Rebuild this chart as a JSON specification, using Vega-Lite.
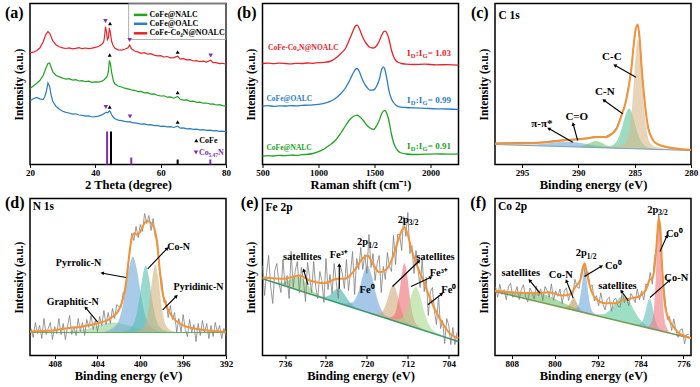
{
"$schema":"https://vega.github.io/schema/vega-lite/v6.json",
"background":"white",
"padding":{"left":4,"top":1.5,"right":0,"bottom":0},
"config":{
 "font":"Liberation Serif",
 "view":{"stroke":"black","strokeWidth":1.5},
 "axis":{"labelFont":"Liberation Serif","labelFontWeight":"bold","labelFontSize":9,"labelColor":"black","titleFont":"Liberation Serif","titleFontWeight":"bold","titleColor":"black","grid":false,"domain":false,"tickColor":"black","tickWidth":1,"tickSize":3,"labelFlush":false,"labelOverlap":false},
 "axisX":{"titleFontSize":12.5,"titlePadding":1,"labelPadding":1},
 "axisY":{"labels":false,"ticks":false,"titleFontSize":11.5,"titlePadding":6},
 "text":{"font":"Liberation Serif","fontWeight":"bold","color":"black"}
},
"columns":3,
"spacing":{"row":34,"column":36.5},
"bounds":"flush",
"resolve":{"scale":{"color":"independent"},"legend":{"color":"independent"}},
"datasets":{
"xrd":[
{"t":20,"r":111.5,"g":76,"b":63.5},{"t":21,"r":112.3,"g":78.5,"b":65.8},{"t":22,"r":113.8,"g":81,"b":67},{"t":23,"r":116.5,"g":84,"b":65.6},{"t":24,"r":122.5,"g":89,"b":65},{"t":24.5,"r":127,"g":93,"b":67.5},{"t":25,"r":131,"g":97.5,"b":73},{"t":25.5,"r":133,"g":101,"b":81.5},{"t":26,"r":131.5,"g":101.5,"b":78},{"t":26.5,"r":127.5,"g":97,"b":69},{"t":27,"r":123.5,"g":92.5,"b":63},{"t":28,"r":119.5,"g":89,"b":58},{"t":29,"r":117.8,"g":87.6,"b":55.3},{"t":30,"r":116.6,"g":86.4,"b":53.2},{"t":31,"r":116,"g":85.3,"b":52.1},{"t":32,"r":116.6,"g":85.8,"b":51.5},{"t":33,"r":115.6,"g":84.4,"b":50.4},{"t":34,"r":116.2,"g":84.9,"b":50.7},{"t":35,"r":116.9,"g":83.5,"b":49.5},{"t":36,"r":115.8,"g":83.9,"b":49.1},{"t":37,"r":116.5,"g":82.8,"b":48.3},{"t":38,"r":115.9,"g":83.3,"b":48.6},{"t":39,"r":116.4,"g":82.1,"b":47.5},{"t":40,"r":117.2,"g":82.6,"b":47.8},{"t":41,"r":118,"g":82.4,"b":48.4},{"t":42,"r":120.3,"g":83.4,"b":49.6},{"t":42.5,"r":122,"g":84.2,"b":50.5},{"t":42.8,"r":127,"g":85,"b":51.2},{"t":43.1,"r":138,"g":86.2,"b":51.8},{"t":43.4,"r":133,"g":87,"b":52.3},{"t":43.7,"r":125,"g":89,"b":51.8},{"t":44,"r":127,"g":93,"b":52.5},{"t":44.3,"r":136.5,"g":104,"b":53.6},{"t":44.6,"r":132,"g":101,"b":52.6},{"t":45,"r":123,"g":92,"b":49.8},{"t":45.5,"r":118.5,"g":84,"b":47.2},{"t":46,"r":116.3,"g":80.5,"b":45.8},{"t":47,"r":114.6,"g":78.5,"b":44.4},{"t":48,"r":114.3,"g":77.5,"b":43.9},{"t":49,"r":115.2,"g":76.3,"b":43.2},{"t":50,"r":116.8,"g":75.6,"b":42.6},{"t":50.5,"r":119.5,"g":75.2,"b":42.9},{"t":51,"r":116,"g":74.7,"b":42.1},{"t":52,"r":113.5,"g":74.2,"b":41.6},{"t":53,"r":112.6,"g":72.9,"b":41.1},{"t":54,"r":111.2,"g":73.1,"b":40.4},{"t":55,"r":111.8,"g":71.6,"b":40.6},{"t":56,"r":110.3,"g":71.9,"b":39.6},{"t":57,"r":110.8,"g":70.4,"b":39.9},{"t":58,"r":109.4,"g":70.6,"b":38.9},{"t":59,"r":108.6,"g":69.2,"b":39.1},{"t":60,"r":108.9,"g":68.5,"b":38.2},{"t":61,"r":107.5,"g":68.7,"b":38.4},{"t":62,"r":108,"g":67.3,"b":37.6},{"t":63,"r":106.6,"g":67.6,"b":37.8},{"t":64,"r":106.9,"g":66.3,"b":37},{"t":65.2,"r":108.3,"g":68,"b":38.3},{"t":66,"r":105.4,"g":65.2,"b":36.3},{"t":67,"r":105.8,"g":64.3,"b":36.6},{"t":68,"r":104.6,"g":64.6,"b":35.7},{"t":69,"r":104.9,"g":63.1,"b":35.9},{"t":70,"r":103.5,"g":63.3,"b":35.2},{"t":71,"r":103.9,"g":62.2,"b":35.4},{"t":72,"r":102.8,"g":62.4,"b":34.6},{"t":73,"r":103.3,"g":61.3,"b":34.8},{"t":74,"r":102.4,"g":61.5,"b":34.1},{"t":75.3,"r":104.3,"g":60.4,"b":34.3},{"t":76,"r":101.8,"g":60.6,"b":33.6},{"t":77,"r":101.9,"g":59.5,"b":33.8},{"t":78,"r":100.9,"g":59.8,"b":33.1},{"t":79,"r":101.2,"g":58.9,"b":33.3},{"t":80,"r":100.2,"g":58.6,"b":32.6}],
"xmk":[{"t":43.1,"v":143.5,"m":"d"},{"t":44.5,"v":141,"m":"u"},{"t":50.5,"v":124.5,"m":"d"},{"t":65.2,"v":112.5,"m":"u"},{"t":75.3,"v":109,"m":"d"},{"t":44.4,"v":109.5,"m":"u"},{"t":65.2,"v":72,"m":"u"},{"t":43.2,"v":57.5,"m":"d"},{"t":44.4,"v":57.5,"m":"u"},{"t":50.6,"v":48,"m":"d"},{"t":65.2,"v":42.5,"m":"u"},{"t":70.9,"v":24,"m":"u"},{"t":70.8,"v":12,"m":"d"}],
"stk":[{"t":43.6,"z":0,"h":33,"m":"d"},{"t":44.8,"z":0,"h":33,"m":"u"},{"t":51,"z":0,"h":7,"m":"d"},{"t":65.2,"z":0,"h":5,"m":"u"},{"t":75.2,"z":0,"h":5,"m":"d"}],
"xlg":[{"k":"g","x1":51.8,"x2":55.9,"tx":56.6,"y":149.6,"t":"CoFe@NALC"},{"k":"b","x1":51.8,"x2":55.9,"tx":56.6,"y":140.7,"t":"CoFe@OALC"},{"k":"r","x1":51.8,"x2":55.9,"tx":56.6,"y":131.2,"t":"CoFe-Co₄N@NOALC"}],
"xbox":[{"x1":50.2,"x2":80,"y1":125,"y2":161}],
"xleg":[{"x":71.8,"y":24,"m":"u"},{"x":71.7,"y":12,"m":"d"}],
"ram":[
{"w":500,"r":101,"o":58.3,"g":8.3},{"w":550,"r":101.4,"o":58.8,"g":8.9},{"w":600,"r":100.8,"o":58.2,"g":8.5},{"w":650,"r":101.3,"o":58.7,"g":9.2},{"w":700,"r":101,"o":58.5,"g":8.8},{"w":750,"r":100.6,"o":58.9,"g":9.4},{"w":800,"r":101.2,"o":58.6,"g":9.1},{"w":850,"r":101,"o":59.1,"g":9.8},{"w":900,"r":101.5,"o":59.3,"g":10.2},{"w":950,"r":101.2,"o":59.6,"g":11},{"w":1000,"r":101.8,"o":60.2,"g":12.8},{"w":1050,"r":102.2,"o":61.2,"g":15.5},{"w":1100,"r":103,"o":62.8,"g":19.5},{"w":1150,"r":106,"o":66,"g":24},{"w":1200,"r":111,"o":71,"g":31.5},{"w":1240,"r":116,"o":76.5,"g":38.5},{"w":1280,"r":126,"o":84.5,"g":45},{"w":1310,"r":134,"o":91.5,"g":48},{"w":1330,"r":138.5,"o":95,"g":49},{"w":1345,"r":139.3,"o":96,"g":49.3},{"w":1360,"r":137,"o":94,"g":48.5},{"w":1380,"r":131.5,"o":88.5,"g":46.5},{"w":1400,"r":126,"o":83,"g":44},{"w":1430,"r":120.5,"o":77.5,"g":39.5},{"w":1460,"r":117,"o":74.3,"g":36.5},{"w":1490,"r":116.5,"o":74.5,"g":35},{"w":1520,"r":119,"o":78.5,"g":39},{"w":1545,"r":124,"o":86,"g":45},{"w":1565,"r":129.5,"o":95.5,"g":51},{"w":1580,"r":132.5,"o":97.7,"g":53.5},{"w":1595,"r":133.3,"o":94,"g":54},{"w":1610,"r":131.5,"o":86,"g":51},{"w":1630,"r":125,"o":73.3,"g":43},{"w":1650,"r":115,"o":66,"g":31},{"w":1670,"r":108,"o":62,"g":22},{"w":1690,"r":104,"o":59.5,"g":16.7},{"w":1710,"r":102.2,"o":58,"g":13.5},{"w":1740,"r":101,"o":57.3,"g":11.5},{"w":1780,"r":100.4,"o":57,"g":10.5},{"w":1850,"r":100,"o":56.6,"g":10},{"w":1950,"r":100.3,"o":56.2,"g":10.3},{"w":2050,"r":99.7,"o":55.7,"g":10.6},{"w":2150,"r":99.8,"o":55.5,"g":10.4},{"w":2250,"r":99.3,"o":55,"g":10.7}],
"ramT":[{"w":550,"v":116.7,"s":"r","t":"CoFe-Co₄N@NOALC"},{"w":535,"v":66,"s":"o","t":"CoFe@OALC"},{"w":535,"v":16.7,"s":"g","t":"CoFe@NALC"}],
"idig":[{"w":1822,"v":111.7,"s":"r","val":" = 1.03"},{"w":1822,"v":65,"s":"o","val":" = 0.99"},{"w":1822,"v":18.3,"s":"g","val":" = 0.91"}],
"lbl":[{"p":"a","x":15.2,"y":152,"t":"(a)"},{"p":"b","x":360,"y":152,"t":"(b)"},{"p":"c","x":298.75,"y":152,"t":"(c)"},{"p":"d","x":411.73,"y":152.5,"t":"(d)"},{"p":"e","x":742.9,"y":152.3,"t":"(e)"},{"p":"f","x":814.2,"y":152.5,"t":"(f)"}],
"ins":[{"p":"c","x":297.1,"y":149,"t":"C 1s"},{"p":"d","x":410.05,"y":149,"t":"N 1s"},{"p":"e","x":739.8,"y":148,"t":"Fe 2p"},{"p":"f","x":810.55,"y":149,"t":"Co 2p"}],
"cA":[
{"c":"pp","x":282.0,"y":14.7,"b":14.7},{"c":"pp","x":284.8,"y":15.9,"b":15.7},{"c":"pp","x":286.8,"y":16.8,"b":16.3},{"c":"pp","x":287.8,"y":17.9,"b":16.7},{"c":"pp","x":288.8,"y":19.5,"b":17.0},{"c":"pp","x":289.8,"y":21.5,"b":17.4},{"c":"pp","x":290.8,"y":22.7,"b":17.7},{"c":"pp","x":291.8,"y":22.2,"b":18.1},{"c":"pp","x":292.8,"y":20.9,"b":18.4},{"c":"pp","x":293.8,"y":20.0,"b":18.8},{"c":"pp","x":294.8,"y":19.6,"b":19.1},{"c":"pp","x":296.8,"y":19.9,"b":19.8},{"c":"pp","x":297.4,"y":20.1,"b":20.0},
{"c":"co","x":284.1,"y":15.4,"b":15.4},{"c":"co","x":285.4,"y":16.1,"b":15.9},{"c":"co","x":286.9,"y":17.1,"b":16.4},{"c":"co","x":287.275,"y":18.1,"b":16.5},{"c":"co","x":287.65,"y":19.9,"b":16.6},{"c":"co","x":288.025,"y":22.2,"b":16.8},{"c":"co","x":288.4,"y":23.4,"b":16.9},{"c":"co","x":288.775,"y":22.4,"b":17.0},{"c":"co","x":289.15,"y":20.5,"b":17.2},{"c":"co","x":289.525,"y":18.9,"b":17.3},{"c":"co","x":289.9,"y":18.1,"b":17.4},{"c":"co","x":290.65,"y":17.9,"b":17.7},{"c":"co","x":291.7,"y":18.0,"b":18.0},
{"c":"cn","x":281.92,"y":15.1,"b":14.7},{"c":"cn","x":282.74,"y":15.5,"b":14.9},{"c":"cn","x":283.39,"y":16.2,"b":15.2},{"c":"cn","x":283.88,"y":17.3,"b":15.3},{"c":"cn","x":284.2,"y":19.6,"b":15.4},{"c":"cn","x":284.53,"y":25.2,"b":15.6},{"c":"cn","x":284.69,"y":29.8,"b":15.6},{"c":"cn","x":284.85,"y":35.7,"b":15.7},{"c":"cn","x":285.01,"y":42.3,"b":15.7},{"c":"cn","x":285.18,"y":49.0,"b":15.8},{"c":"cn","x":285.34,"y":54.0,"b":15.9},{"c":"cn","x":285.5,"y":55.9,"b":15.9},{"c":"cn","x":285.66,"y":54.1,"b":16.0},{"c":"cn","x":285.83,"y":49.2,"b":16.0},{"c":"cn","x":285.99,"y":42.7,"b":16.1},{"c":"cn","x":286.15,"y":36.1,"b":16.1},{"c":"cn","x":286.31,"y":30.4,"b":16.2},{"c":"cn","x":286.48,"y":25.8,"b":16.2},{"c":"cn","x":286.8,"y":20.5,"b":16.3},{"c":"cn","x":287.13,"y":18.5,"b":16.5},{"c":"cn","x":287.61,"y":17.6,"b":16.6},{"c":"cn","x":288.26,"y":17.4,"b":16.8},{"c":"cn","x":289.08,"y":17.5,"b":17.1},
{"c":"cc","x":281.0,"y":14.3,"b":14.3},{"c":"cc","x":282.23,"y":15.9,"b":14.8},{"c":"cc","x":282.79,"y":16.8,"b":15.0},{"c":"cc","x":283.24,"y":18.0,"b":15.1},{"c":"cc","x":283.58,"y":20.7,"b":15.2},{"c":"cc","x":283.8,"y":26.7,"b":15.3},{"c":"cc","x":284.03,"y":41.7,"b":15.4},{"c":"cc","x":284.14,"y":54.3,"b":15.4},{"c":"cc","x":284.25,"y":70.5,"b":15.5},{"c":"cc","x":284.36,"y":88.8,"b":15.5},{"c":"cc","x":284.48,"y":106.7,"b":15.5},{"c":"cc","x":284.59,"y":120.4,"b":15.6},{"c":"cc","x":284.7,"y":125.6,"b":15.6},{"c":"cc","x":284.81,"y":120.5,"b":15.7},{"c":"cc","x":284.93,"y":106.9,"b":15.7},{"c":"cc","x":285.04,"y":89.0,"b":15.7},{"c":"cc","x":285.15,"y":70.8,"b":15.8},{"c":"cc","x":285.26,"y":54.7,"b":15.8},{"c":"cc","x":285.38,"y":42.1,"b":15.8},{"c":"cc","x":285.6,"y":27.3,"b":15.9},{"c":"cc","x":285.83,"y":21.5,"b":16.0},{"c":"cc","x":286.16,"y":19.0,"b":16.1},{"c":"cc","x":286.61,"y":18.1,"b":16.3},{"c":"cc","x":287.18,"y":17.6,"b":16.5}],
"cL":[
{"k":"b","x":297.4,"y":20},{"k":"b","x":280,"y":14},
{"k":"r","x":297.4,"y":21.5},{"k":"r","x":296,"y":21.8},{"k":"r","x":295,"y":22.1},{"k":"r","x":294.1,"y":22.0},{"k":"r","x":293,"y":22.6},{"k":"r","x":292.5,"y":23.4},{"k":"r","x":291.5,"y":24.6},{"k":"r","x":290.5,"y":25.3},{"k":"r","x":289.4,"y":26.4},{"k":"r","x":288.5,"y":28.0},{"k":"r","x":288.0,"y":28.1},{"k":"r","x":287.6,"y":27.8},{"k":"r","x":287.0,"y":31.5},{"k":"r","x":286.6,"y":37},{"k":"r","x":286.1,"y":52},{"k":"r","x":285.8,"y":63},{"k":"r","x":285.5,"y":81},{"k":"r","x":285.3,"y":96},{"k":"r","x":285.1,"y":119},{"k":"r","x":284.9,"y":136},{"k":"r","x":284.72,"y":139},{"k":"r","x":284.55,"y":124},{"k":"r","x":284.4,"y":99},{"k":"r","x":284.2,"y":72},{"k":"r","x":284.0,"y":51},{"k":"r","x":283.8,"y":36},{"k":"r","x":283.5,"y":26.5},{"k":"r","x":283.2,"y":21.5},{"k":"r","x":282.5,"y":18},{"k":"r","x":281.7,"y":16},{"k":"r","x":280.8,"y":15},{"k":"r","x":280.0,"y":14.5},
{"k":"e","x":297.4,"y":20.7},{"k":"e","x":296,"y":21.0},{"k":"e","x":294.1,"y":21.3},{"k":"e","x":292.5,"y":22.5},{"k":"e","x":291.5,"y":23.8},{"k":"e","x":290.5,"y":24.7},{"k":"e","x":289.4,"y":25.7},{"k":"e","x":288.5,"y":27.3},{"k":"e","x":288.0,"y":27.5},{"k":"e","x":287.6,"y":27.3},{"k":"e","x":287.0,"y":30.7},{"k":"e","x":286.6,"y":36},{"k":"e","x":286.1,"y":51.3},{"k":"e","x":285.8,"y":62},{"k":"e","x":285.5,"y":80},{"k":"e","x":285.3,"y":95},{"k":"e","x":285.1,"y":118},{"k":"e","x":284.9,"y":136},{"k":"e","x":284.72,"y":140},{"k":"e","x":284.55,"y":125},{"k":"e","x":284.4,"y":100},{"k":"e","x":284.2,"y":73},{"k":"e","x":284.0,"y":52},{"k":"e","x":283.8,"y":36.7},{"k":"e","x":283.5,"y":27},{"k":"e","x":283.2,"y":22},{"k":"e","x":282.5,"y":18.5},{"k":"e","x":281.7,"y":16.5},{"k":"e","x":280.8,"y":15.3},{"k":"e","x":280.0,"y":14.7}],
"cT":[{"x":287.03,"y":107.3,"t":"C-C"},{"x":287.65,"y":72.3,"t":"C-N"},{"x":290.14,"y":47.3,"t":"C=O"},{"x":293.24,"y":40.7,"t":"π-π*"}],
"cR":[{"x":284.88,"y":87.3,"hx":286.72,"hy":99,"a":299},{"x":286.06,"y":50.7,"hx":287.7,"hy":64,"a":306},{"x":290.06,"y":24,"hx":290.45,"hy":40,"a":345},{"x":290.5,"y":22.3,"hx":292.58,"hy":35.7,"a":300}],
"dA":[
{"c":"gr","x":393.7,"y":23,"b":23},{"c":"gr","x":396.5,"y":23.3,"b":23},{"c":"gr","x":398.5,"y":24,"b":23},{"c":"gr","x":399.5,"y":25.4,"b":23},{"c":"gr","x":400.5,"y":28,"b":23},{"c":"gr","x":401.5,"y":31.3,"b":23},{"c":"gr","x":402.5,"y":33,"b":23},{"c":"gr","x":403.5,"y":31.3,"b":23},{"c":"gr","x":404.5,"y":28,"b":23},{"c":"gr","x":405.5,"y":25.4,"b":23},{"c":"gr","x":406.5,"y":24,"b":23},{"c":"gr","x":408.5,"y":23.3,"b":23},{"c":"gr","x":410.3,"y":23.1,"b":23},
{"c":"py","x":397.4,"y":23,"b":23},{"c":"py","x":398.45,"y":25.3,"b":23},{"c":"py","x":399.2,"y":30.9,"b":23},{"c":"py","x":399.575,"y":41.2,"b":23},{"c":"py","x":399.95,"y":61,"b":23},{"c":"py","x":400.325,"y":86,"b":23},{"c":"py","x":400.7,"y":99,"b":23},{"c":"py","x":401.075,"y":86,"b":23},{"c":"py","x":401.45,"y":61,"b":23},{"c":"py","x":401.825,"y":41.2,"b":23},{"c":"py","x":402.2,"y":30.9,"b":23},{"c":"py","x":402.95,"y":25.3,"b":23},{"c":"py","x":404.0,"y":23,"b":23},
{"c":"cn","x":396.86,"y":23,"b":23},{"c":"cn","x":397.7,"y":25,"b":23},{"c":"cn","x":398.3,"y":30,"b":23},{"c":"cn","x":398.6,"y":39,"b":23},{"c":"cn","x":398.9,"y":56.5,"b":23},{"c":"cn","x":399.2,"y":78.5,"b":23},{"c":"cn","x":399.5,"y":90,"b":23},{"c":"cn","x":399.8,"y":78.5,"b":23},{"c":"cn","x":400.1,"y":56.5,"b":23},{"c":"cn","x":400.4,"y":39,"b":23},{"c":"cn","x":400.7,"y":30,"b":23},{"c":"cn","x":401.3,"y":25,"b":23},{"c":"cn","x":402.14,"y":23,"b":23},
{"c":"pd","x":396.4,"y":23,"b":23},{"c":"pd","x":397.1,"y":25,"b":23},{"c":"pd","x":397.6,"y":30.1,"b":23},{"c":"pd","x":397.85,"y":39.3,"b":23},{"c":"pd","x":398.1,"y":57,"b":23},{"c":"pd","x":398.35,"y":79.4,"b":23},{"c":"pd","x":398.6,"y":91,"b":23},{"c":"pd","x":398.85,"y":79.4,"b":23},{"c":"pd","x":399.1,"y":57,"b":23},{"c":"pd","x":399.35,"y":39.3,"b":23},{"c":"pd","x":399.6,"y":30.1,"b":23},{"c":"pd","x":400.1,"y":25,"b":23},{"c":"pd","x":400.8,"y":23,"b":23}],
"dL":[
{"k":"b","x":392,"y":23},{"k":"b","x":410.3,"y":23},
{"k":"r","x":410.2,"y":27},{"k":"r","x":410.0,"y":18},{"k":"r","x":409.8,"y":33},{"k":"r","x":409.6,"y":22},{"k":"r","x":409.4,"y":30},{"k":"r","x":409.2,"y":17},{"k":"r","x":409.0,"y":37},{"k":"r","x":408.8,"y":21},{"k":"r","x":408.6,"y":27},{"k":"r","x":408.4,"y":33},{"k":"r","x":408.2,"y":16},{"k":"r","x":408.0,"y":29},{"k":"r","x":407.8,"y":22},{"k":"r","x":407.6,"y":37},{"k":"r","x":407.4,"y":21},{"k":"r","x":407.2,"y":32},{"k":"r","x":407.0,"y":16},{"k":"r","x":406.8,"y":29},{"k":"r","x":406.6,"y":40},{"k":"r","x":406.4,"y":21},{"k":"r","x":406.2,"y":29},{"k":"r","x":406.0,"y":20},{"k":"r","x":405.8,"y":37},{"k":"r","x":405.6,"y":24},{"k":"r","x":405.4,"y":33},{"k":"r","x":405.2,"y":20},{"k":"r","x":405.0,"y":36},{"k":"r","x":404.8,"y":28},{"k":"r","x":404.6,"y":40},{"k":"r","x":404.4,"y":26},{"k":"r","x":404.2,"y":35},{"k":"r","x":404.0,"y":24},{"k":"r","x":403.8,"y":39},{"k":"r","x":403.6,"y":30},{"k":"r","x":403.4,"y":45},{"k":"r","x":403.2,"y":31},{"k":"r","x":403.0,"y":43},{"k":"r","x":402.8,"y":32},{"k":"r","x":402.6,"y":47},{"k":"r","x":402.4,"y":37},{"k":"r","x":402.2,"y":51},{"k":"r","x":402.0,"y":49},{"k":"r","x":401.8,"y":48},{"k":"r","x":401.6,"y":63},{"k":"r","x":401.4,"y":64},{"k":"r","x":401.2,"y":88},{"k":"r","x":401.0,"y":101},{"k":"r","x":400.8,"y":122},{"k":"r","x":400.6,"y":115},{"k":"r","x":400.4,"y":129},{"k":"r","x":400.2,"y":118},{"k":"r","x":400.0,"y":131},{"k":"r","x":399.8,"y":124},{"k":"r","x":399.6,"y":142},{"k":"r","x":399.4,"y":132},{"k":"r","x":399.2,"y":140},{"k":"r","x":399.0,"y":125},{"k":"r","x":398.8,"y":137},{"k":"r","x":398.6,"y":118},{"k":"r","x":398.4,"y":115},{"k":"r","x":398.2,"y":82},{"k":"r","x":398.0,"y":76},{"k":"r","x":397.8,"y":53},{"k":"r","x":397.6,"y":55},{"k":"r","x":397.4,"y":38},{"k":"r","x":397.2,"y":50},{"k":"r","x":397.0,"y":36},{"k":"r","x":396.8,"y":43},{"k":"r","x":396.6,"y":23},{"k":"r","x":396.4,"y":37},{"k":"r","x":396.2,"y":23.5},{"k":"r","x":396.0,"y":41},{"k":"r","x":395.8,"y":26},{"k":"r","x":395.6,"y":19},{"k":"r","x":395.4,"y":36},{"k":"r","x":395.2,"y":23},{"k":"r","x":395.0,"y":31},{"k":"r","x":394.8,"y":14},{"k":"r","x":394.6,"y":32},{"k":"r","x":394.4,"y":20},{"k":"r","x":394.2,"y":35},{"k":"r","x":394.0,"y":23},{"k":"r","x":393.8,"y":32},{"k":"r","x":393.6,"y":17},{"k":"r","x":393.4,"y":30},{"k":"r","x":393.2,"y":19},{"k":"r","x":393.0,"y":33},{"k":"r","x":392.8,"y":23},{"k":"r","x":392.6,"y":30},{"k":"r","x":392.4,"y":17},{"k":"r","x":392.2,"y":27},{"k":"r","x":392.0,"y":20},
{"k":"e","x":410.3,"y":24},{"k":"e","x":408,"y":25.3},{"k":"e","x":406.75,"y":27.3},{"k":"e","x":405.5,"y":28.8},{"k":"e","x":404.56,"y":30.7},{"k":"e","x":403.8,"y":32.7},{"k":"e","x":403.0,"y":35.7},{"k":"e","x":402.6,"y":38.7},{"k":"e","x":402.2,"y":42.3},{"k":"e","x":401.9,"y":48},{"k":"e","x":401.6,"y":57.3},{"k":"e","x":401.27,"y":77.3},{"k":"e","x":401.0,"y":104},{"k":"e","x":400.8,"y":117.3},{"k":"e","x":400.54,"y":122.3},{"k":"e","x":400.33,"y":120.7},{"k":"e","x":400.0,"y":124},{"k":"e","x":399.7,"y":130.7},{"k":"e","x":399.39,"y":134.7},{"k":"e","x":399.0,"y":132.3},{"k":"e","x":398.7,"y":127.3},{"k":"e","x":398.45,"y":114},{"k":"e","x":398.23,"y":90.7},{"k":"e","x":398.0,"y":67.3},{"k":"e","x":397.6,"y":50.7},{"k":"e","x":397.04,"y":39},{"k":"e","x":396.1,"y":30.7},{"k":"e","x":394.8,"y":26.7},{"k":"e","x":393.5,"y":24.8},{"k":"e","x":392,"y":24}],
"dT":[{"x":405.77,"y":92.3,"t":"Pyrrolic-N"},{"x":396.43,"y":109,"t":"Co-N"},{"x":394.56,"y":69,"t":"Pyridinic-N"},{"x":406.31,"y":54,"t":"Graphitic-N"}],
"dR":[{"x":401.33,"y":78,"hx":403.51,"hy":82.3,"a":280},{"x":399.31,"y":86.7,"hx":397.53,"hy":106.7,"a":44},{"x":397.91,"y":45.7,"hx":396.66,"hy":59,"a":45},{"x":403.98,"y":33.3,"hx":405.07,"hy":47.3,"a":320}],
"eA":[
{"c":"s1","x":724.5,"y":50.7,"b":50.7},{"c":"s1","x":727.3,"y":55.7,"b":55.3},{"c":"s1","x":729.3,"y":60.0,"b":58.5},{"c":"s1","x":730.3,"y":63.5,"b":60.2},{"c":"s1","x":731.3,"y":68.8,"b":61.8},{"c":"s1","x":732.3,"y":75.0,"b":63.4},{"c":"s1","x":733.3,"y":79.1,"b":65.1},{"c":"s1","x":734.3,"y":78.3,"b":66.7},{"c":"s1","x":735.3,"y":75.3,"b":68.3},{"c":"s1","x":736.3,"y":73.3,"b":70.0},{"c":"s1","x":737.3,"y":73.1,"b":71.6},{"c":"s1","x":739.3,"y":75.3,"b":74.9},{"c":"s1","x":740.4,"y":76.9,"b":76.7},
{"c":"f3a","x":718.8,"y":41.3,"b":41.3},{"c":"f3a","x":720.9,"y":45.3,"b":44.8},{"c":"f3a","x":722.4,"y":48.8,"b":47.2},{"c":"f3a","x":723.15,"y":52.1,"b":48.5},{"c":"f3a","x":723.9,"y":57.2,"b":49.7},{"c":"f3a","x":724.65,"y":63.3,"b":50.9},{"c":"f3a","x":725.4,"y":67.1,"b":52.1},{"c":"f3a","x":726.15,"y":65.8,"b":53.4},{"c":"f3a","x":726.9,"y":62.1,"b":54.6},{"c":"f3a","x":727.65,"y":59.4,"b":55.8},{"c":"f3a","x":728.4,"y":58.7,"b":57.1},{"c":"f3a","x":729.9,"y":59.9,"b":59.5},{"c":"f3a","x":732.0,"y":62.9,"b":62.9},
{"c":"f0a","x":713.25,"y":32.3,"b":32.3},{"c":"f0a","x":715.35,"y":37.1,"b":35.7},{"c":"f0a","x":716.85,"y":43.0,"b":38.1},{"c":"f0a","x":717.6,"y":50.6,"b":39.4},{"c":"f0a","x":718.35,"y":64.1,"b":40.6},{"c":"f0a","x":719.1,"y":80.8,"b":41.8},{"c":"f0a","x":719.85,"y":90.1,"b":43.1},{"c":"f0a","x":720.6,"y":83.3,"b":44.3},{"c":"f0a","x":721.35,"y":69.0,"b":45.5},{"c":"f0a","x":722.1,"y":57.9,"b":46.7},{"c":"f0a","x":722.85,"y":52.9,"b":48.0},{"c":"f0a","x":724.35,"y":51.8,"b":50.4},{"c":"f0a","x":726.45,"y":53.9,"b":53.9},
{"c":"s2","x":709.3,"y":25.8,"b":25.8},{"c":"s2","x":711.05,"y":29.8,"b":28.7},{"c":"s2","x":712.3,"y":34.4,"b":30.7},{"c":"s2","x":712.925,"y":40.3,"b":31.7},{"c":"s2","x":713.55,"y":50.7,"b":32.7},{"c":"s2","x":714.175,"y":63.6,"b":33.8},{"c":"s2","x":714.8,"y":70.8,"b":34.8},{"c":"s2","x":715.425,"y":65.6,"b":35.8},{"c":"s2","x":716.05,"y":54.8,"b":36.8},{"c":"s2","x":716.675,"y":46.5,"b":37.9},{"c":"s2","x":717.3,"y":42.6,"b":38.9},{"c":"s2","x":718.55,"y":42.0,"b":40.9},{"c":"s2","x":720.3,"y":43.8,"b":43.8},
{"c":"f3b","x":708.25,"y":24.1,"b":24.1},{"c":"f3b","x":709.65,"y":28.2,"b":26.4},{"c":"f3b","x":710.65,"y":34.3,"b":28.0},{"c":"f3b","x":711.15,"y":43.4,"b":28.8},{"c":"f3b","x":711.65,"y":60.1,"b":29.6},{"c":"f3b","x":712.15,"y":81.1,"b":30.5},{"c":"f3b","x":712.65,"y":92.3,"b":31.3},{"c":"f3b","x":713.15,"y":82.7,"b":32.1},{"c":"f3b","x":713.65,"y":63.4,"b":32.9},{"c":"f3b","x":714.15,"y":48.3,"b":33.7},{"c":"f3b","x":714.65,"y":40.8,"b":34.5},{"c":"f3b","x":715.65,"y":38.0,"b":36.2},{"c":"f3b","x":717.05,"y":38.5,"b":38.5},
{"c":"f0b","x":703.8,"y":16.8,"b":16.8},{"c":"f0b","x":705.9,"y":21.4,"b":20.2},{"c":"f0b","x":707.4,"y":27.0,"b":22.7},{"c":"f0b","x":708.15,"y":33.7,"b":23.9},{"c":"f0b","x":708.9,"y":45.6,"b":25.1},{"c":"f0b","x":709.65,"y":60.4,"b":26.4},{"c":"f0b","x":710.4,"y":68.6,"b":27.6},{"c":"f0b","x":711.15,"y":62.8,"b":28.8},{"c":"f0b","x":711.9,"y":50.5,"b":30.0},{"c":"f0b","x":712.65,"y":41.1,"b":31.3},{"c":"f0b","x":713.4,"y":36.8,"b":32.5},{"c":"f0b","x":714.9,"y":36.2,"b":35.0},{"c":"f0b","x":717.0,"y":38.4,"b":38.4}],
"eL":[
{"k":"b","x":740.4,"y":76.7},{"k":"b","x":702.1,"y":14},
{"k":"r","x":740.4,"y":90},{"k":"r","x":740.0,"y":60},{"k":"r","x":739.6,"y":83},{"k":"r","x":739.2,"y":100},{"k":"r","x":738.8,"y":69},{"k":"r","x":738.4,"y":52},{"k":"r","x":738.0,"y":85},{"k":"r","x":737.6,"y":92},{"k":"r","x":737.2,"y":73},{"k":"r","x":736.8,"y":63},{"k":"r","x":736.4,"y":96},{"k":"r","x":736.0,"y":70},{"k":"r","x":735.6,"y":80},{"k":"r","x":735.2,"y":57},{"k":"r","x":734.8,"y":104},{"k":"r","x":734.4,"y":68},{"k":"r","x":734.0,"y":85},{"k":"r","x":733.6,"y":94},{"k":"r","x":733.2,"y":63},{"k":"r","x":732.8,"y":88},{"k":"r","x":732.4,"y":75},{"k":"r","x":732.0,"y":54},{"k":"r","x":731.6,"y":93},{"k":"r","x":731.2,"y":79},{"k":"r","x":730.8,"y":63},{"k":"r","x":730.4,"y":94},{"k":"r","x":730.0,"y":68},{"k":"r","x":729.6,"y":57},{"k":"r","x":729.2,"y":84},{"k":"r","x":728.8,"y":75},{"k":"r","x":728.4,"y":53},{"k":"r","x":728.0,"y":97},{"k":"r","x":727.6,"y":66},{"k":"r","x":727.2,"y":81},{"k":"r","x":726.8,"y":62},{"k":"r","x":726.4,"y":92},{"k":"r","x":726.0,"y":74},{"k":"r","x":725.6,"y":57},{"k":"r","x":725.2,"y":90},{"k":"r","x":724.8,"y":82},{"k":"r","x":724.4,"y":67},{"k":"r","x":724.0,"y":96},{"k":"r","x":723.6,"y":65},{"k":"r","x":723.2,"y":83},{"k":"r","x":722.8,"y":104},{"k":"r","x":722.4,"y":61},{"k":"r","x":722.0,"y":97},{"k":"r","x":721.6,"y":86},{"k":"r","x":721.2,"y":108},{"k":"r","x":720.8,"y":86},{"k":"r","x":720.4,"y":101},{"k":"r","x":720.0,"y":82},{"k":"r","x":719.6,"y":121},{"k":"r","x":719.2,"y":88},{"k":"r","x":718.8,"y":102},{"k":"r","x":718.4,"y":75},{"k":"r","x":718.0,"y":92},{"k":"r","x":717.6,"y":100},{"k":"r","x":717.2,"y":63},{"k":"r","x":716.8,"y":89},{"k":"r","x":716.4,"y":76},{"k":"r","x":716.0,"y":103},{"k":"r","x":715.6,"y":89},{"k":"r","x":715.2,"y":84},{"k":"r","x":714.8,"y":120},{"k":"r","x":714.4,"y":91},{"k":"r","x":714.0,"y":121},{"k":"r","x":713.6,"y":121},{"k":"r","x":713.2,"y":105},{"k":"r","x":712.8,"y":139},{"k":"r","x":712.4,"y":119},{"k":"r","x":712.0,"y":143},{"k":"r","x":711.6,"y":102},{"k":"r","x":711.2,"y":110},{"k":"r","x":710.8,"y":82},{"k":"r","x":710.4,"y":105},{"k":"r","x":710.0,"y":86},{"k":"r","x":709.6,"y":68},{"k":"r","x":709.2,"y":96},{"k":"r","x":708.8,"y":64},{"k":"r","x":708.4,"y":78},{"k":"r","x":708.0,"y":40},{"k":"r","x":707.6,"y":64},{"k":"r","x":707.2,"y":68},{"k":"r","x":706.8,"y":44},{"k":"r","x":706.4,"y":31},{"k":"r","x":706.0,"y":60},{"k":"r","x":705.6,"y":27},{"k":"r","x":705.2,"y":35},{"k":"r","x":704.8,"y":12},{"k":"r","x":704.4,"y":37},{"k":"r","x":704.0,"y":30},{"k":"r","x":703.6,"y":11},{"k":"r","x":703.2,"y":28},{"k":"r","x":702.8,"y":11},{"k":"r","x":702.4,"y":23},
{"k":"e","x":740.4,"y":78},{"k":"e","x":736.1,"y":76.7},{"k":"e","x":733.3,"y":80},{"k":"e","x":731.0,"y":74.7},{"k":"e","x":728.4,"y":72.3},{"k":"e","x":725.7,"y":76.7},{"k":"e","x":724.4,"y":76.7},{"k":"e","x":722.5,"y":84.7},{"k":"e","x":720.8,"y":97.3},{"k":"e","x":719.85,"y":100},{"k":"e","x":718.9,"y":92.3},{"k":"e","x":717.6,"y":83.3},{"k":"e","x":716.25,"y":85.7},{"k":"e","x":714.9,"y":99},{"k":"e","x":713.95,"y":114},{"k":"e","x":713.2,"y":124.7},{"k":"e","x":712.65,"y":128},{"k":"e","x":712.0,"y":120.7},{"k":"e","x":711.35,"y":107.3},{"k":"e","x":710.4,"y":92.3},{"k":"e","x":709.05,"y":75.7},{"k":"e","x":707.4,"y":54},{"k":"e","x":705.45,"y":34},{"k":"e","x":703.5,"y":20.7},{"k":"e","x":702.1,"y":17.3}],
"eT":[{"x":732.65,"y":99,"t":"satellites"},{"x":725.5,"y":100.7,"t":"Fe³⁺"},{"x":719.95,"y":65.7,"t":"Fe⁰"},{"x":706.6,"y":99,"t":"satellites"},{"x":705.95,"y":82.3,"t":"Fe³⁺"},{"x":704.0,"y":65.7,"t":"Fe⁰"}],
"eS":[{"x":719.75,"y":113.3,"s":"1/2"},{"x":711.8,"y":135.7,"s":"3/2"}],
"eR":[{"x":731.5,"y":70.7,"hx":732.3,"hy":84.7,"a":344},{"x":725.4,"y":66.7,"hx":725.4,"hy":90,"a":0},{"x":715.0,"y":69,"hx":709.9,"hy":94,"a":46},{"x":711.35,"y":69,"hx":707.6,"hy":78,"a":65},{"x":708.1,"y":50.7,"hx":705.45,"hy":61.3,"a":52}],
"fA":[
{"c":"s1","x":785.0,"y":30.6,"b":30.6},{"c":"s1","x":789.0,"y":36.0,"b":35.7},{"c":"s1","x":793.5,"y":42.4,"b":41.5},{"c":"s1","x":795.75,"y":46.6,"b":44.4},{"c":"s1","x":798.0,"y":51.7,"b":47.2},{"c":"s1","x":800.25,"y":57.6,"b":50.1},{"c":"s1","x":802.5,"y":62.0,"b":53.0},{"c":"s1","x":804.75,"y":63.4,"b":55.9},{"c":"s1","x":807.0,"y":63.2,"b":58.7},{"c":"s1","x":809.25,"y":63.8,"b":61.6},{"c":"s1","x":811.1,"y":65.1,"b":64.0},
{"c":"cnl","x":793.1,"y":41.0,"b":41.0},{"c":"cnl","x":794.15,"y":42.7,"b":42.3},{"c":"cnl","x":794.9,"y":44.5,"b":43.3},{"c":"cnl","x":795.275,"y":46.6,"b":43.7},{"c":"cnl","x":795.65,"y":50.2,"b":44.2},{"c":"cnl","x":796.025,"y":54.6,"b":44.7},{"c":"cnl","x":796.4,"y":57.2,"b":45.2},{"c":"cnl","x":796.775,"y":55.6,"b":45.7},{"c":"cnl","x":797.15,"y":52.1,"b":46.1},{"c":"cnl","x":797.525,"y":49.5,"b":46.6},{"c":"cnl","x":797.9,"y":48.3,"b":47.1},{"c":"cnl","x":798.65,"y":48.5,"b":48.1},{"c":"cnl","x":799.7,"y":49.4,"b":49.4},
{"c":"c0l","x":791.54,"y":39.0,"b":39.0},{"c":"c0l","x":792.45,"y":41.4,"b":40.1},{"c":"c0l","x":793.1,"y":45.5,"b":41.0},{"c":"c0l","x":793.425,"y":51.7,"b":41.4},{"c":"c0l","x":793.75,"y":63.3,"b":41.8},{"c":"c0l","x":794.075,"y":77.8,"b":42.2},{"c":"c0l","x":794.4,"y":85.6,"b":42.6},{"c":"c0l","x":794.725,"y":78.6,"b":43.0},{"c":"c0l","x":795.05,"y":65.0,"b":43.5},{"c":"c0l","x":795.375,"y":54.2,"b":43.9},{"c":"c0l","x":795.7,"y":48.8,"b":44.3},{"c":"c0l","x":796.35,"y":46.4,"b":45.1},{"c":"c0l","x":797.26,"y":46.3,"b":46.3},
{"c":"s2","x":778.3,"y":22.0,"b":22.0},{"c":"s2","x":781.1,"y":26.4,"b":25.6},{"c":"s2","x":783.1,"y":31.0,"b":28.2},{"c":"s2","x":784.1,"y":36.0,"b":29.5},{"c":"s2","x":785.1,"y":44.2,"b":30.7},{"c":"s2","x":786.1,"y":54.4,"b":32.0},{"c":"s2","x":787.1,"y":60.3,"b":33.3},{"c":"s2","x":788.1,"y":57.0,"b":34.6},{"c":"s2","x":789.1,"y":49.3,"b":35.8},{"c":"s2","x":790.1,"y":43.6,"b":37.1},{"c":"s2","x":791.1,"y":41.2,"b":38.4},{"c":"s2","x":793.1,"y":41.8,"b":41.0},{"c":"s2","x":795.9,"y":44.5,"b":44.5},
{"c":"cnr","x":778.8,"y":22.7,"b":22.7},{"c":"cnr","x":779.9,"y":25.0,"b":24.1},{"c":"cnr","x":780.7,"y":28.2,"b":25.1},{"c":"cnr","x":781.1,"y":32.8,"b":25.6},{"c":"cnr","x":781.5,"y":41.1,"b":26.1},{"c":"cnr","x":781.9,"y":51.5,"b":26.6},{"c":"cnr","x":782.3,"y":57.1,"b":27.1},{"c":"cnr","x":782.7,"y":52.6,"b":27.7},{"c":"cnr","x":783.1,"y":43.2,"b":28.2},{"c":"cnr","x":783.5,"y":35.9,"b":28.7},{"c":"cnr","x":783.9,"y":32.3,"b":29.2},{"c":"cnr","x":784.7,"y":31.1,"b":30.2},{"c":"cnr","x":785.8,"y":31.6,"b":31.6},
{"c":"c0r","x":778.18,"y":21.9,"b":21.9},{"c":"c0r","x":778.95,"y":26.1,"b":22.9},{"c":"c0r","x":779.5,"y":34.7,"b":23.6},{"c":"c0r","x":779.775,"y":49.5,"b":23.9},{"c":"c0r","x":780.05,"y":77.8,"b":24.3},{"c":"c0r","x":780.325,"y":113.3,"b":24.6},{"c":"c0r","x":780.6,"y":132,"b":25.0},{"c":"c0r","x":780.875,"y":114,"b":25.3},{"c":"c0r","x":781.15,"y":79.2,"b":25.7},{"c":"c0r","x":781.425,"y":51.6,"b":26.0},{"c":"c0r","x":781.7,"y":37.5,"b":26.4},{"c":"c0r","x":782.25,"y":30.3,"b":27.1},{"c":"c0r","x":783.02,"y":28.1,"b":28.1}],
"fL":[
{"k":"b","x":811.1,"y":64.0},{"k":"b","x":774.6,"y":17.3},
{"k":"r","x":811.0,"y":68.6},{"k":"r","x":810.6,"y":58.4},{"k":"r","x":810.2,"y":71.3},{"k":"r","x":809.8,"y":61.1},{"k":"r","x":809.4,"y":65.9},{"k":"r","x":809.0,"y":55.7},{"k":"r","x":808.6,"y":68.6},{"k":"r","x":808.2,"y":72.4},{"k":"r","x":807.8,"y":58.2},{"k":"r","x":807.4,"y":61},{"k":"r","x":807.0,"y":68.9},{"k":"r","x":806.6,"y":55.9},{"k":"r","x":806.2,"y":65.8},{"k":"r","x":805.8,"y":70.7},{"k":"r","x":805.4,"y":58.6},{"k":"r","x":805.0,"y":53.6},{"k":"r","x":804.6,"y":67.5},{"k":"r","x":804.2,"y":63.4},{"k":"r","x":803.8,"y":56.3},{"k":"r","x":803.4,"y":69.4},{"k":"r","x":803.0,"y":59.5},{"k":"r","x":802.6,"y":66.7},{"k":"r","x":802.2,"y":54.9},{"k":"r","x":801.8,"y":69},{"k":"r","x":801.4,"y":65.2},{"k":"r","x":801.0,"y":58.2},{"k":"r","x":800.6,"y":71.7},{"k":"r","x":800.2,"y":55.2},{"k":"r","x":799.8,"y":64.6},{"k":"r","x":799.4,"y":59.1},{"k":"r","x":799.0,"y":66.5},{"k":"r","x":798.6,"y":52},{"k":"r","x":798.2,"y":64.3},{"k":"r","x":797.8,"y":67.7},{"k":"r","x":797.4,"y":55},{"k":"r","x":797.0,"y":63.1},{"k":"r","x":796.6,"y":61.1},{"k":"r","x":796.2,"y":76.2},{"k":"r","x":795.8,"y":68.2},{"k":"r","x":795.4,"y":67.2},{"k":"r","x":795.0,"y":85},{"k":"r","x":794.6,"y":91},{"k":"r","x":794.2,"y":78.3},{"k":"r","x":793.8,"y":83.8},{"k":"r","x":793.4,"y":67.9},{"k":"r","x":793.0,"y":70.6},{"k":"r","x":792.6,"y":54.4},{"k":"r","x":792.2,"y":59.8},{"k":"r","x":791.8,"y":49.7},{"k":"r","x":791.4,"y":62.7},{"k":"r","x":791.0,"y":51.6},{"k":"r","x":790.6,"y":45.6},{"k":"r","x":790.2,"y":56.3},{"k":"r","x":789.8,"y":58.3},{"k":"r","x":789.4,"y":44.3},{"k":"r","x":789.0,"y":55.3},{"k":"r","x":788.6,"y":57.3},{"k":"r","x":788.2,"y":49.2},{"k":"r","x":787.8,"y":48.1},{"k":"r","x":787.4,"y":64},{"k":"r","x":787.0,"y":52.8},{"k":"r","x":786.6,"y":58.2},{"k":"r","x":786.2,"y":49.6},{"k":"r","x":785.8,"y":62},{"k":"r","x":785.4,"y":58.4},{"k":"r","x":785.0,"y":53},{"k":"r","x":784.6,"y":66.6},{"k":"r","x":784.2,"y":55.5},{"k":"r","x":783.8,"y":64.6},{"k":"r","x":783.4,"y":55.6},{"k":"r","x":783.0,"y":71.7},{"k":"r","x":782.6,"y":69.4},{"k":"r","x":782.2,"y":83},{"k":"r","x":781.8,"y":71.3},{"k":"r","x":781.4,"y":96.6},{"k":"r","x":781.0,"y":108.7},{"k":"r","x":780.6,"y":142},{"k":"r","x":780.2,"y":105.7},{"k":"r","x":779.8,"y":76.8},{"k":"r","x":779.4,"y":55.6},{"k":"r","x":779.0,"y":36},{"k":"r","x":778.6,"y":39},{"k":"r","x":778.2,"y":25},{"k":"r","x":777.8,"y":36.6},{"k":"r","x":777.4,"y":24.8},{"k":"r","x":777.0,"y":18},{"k":"r","x":776.6,"y":25.8},{"k":"r","x":776.2,"y":26.6},{"k":"r","x":775.8,"y":11.6},{"k":"r","x":775.4,"y":20.9},{"k":"r","x":775.0,"y":21.2},
{"k":"e","x":811.1,"y":64.7},{"k":"e","x":807.4,"y":63},{"k":"e","x":803.6,"y":62.3},{"k":"e","x":801.1,"y":63.3},{"k":"e","x":798.6,"y":60},{"k":"e","x":797.1,"y":61.3},{"k":"e","x":796.1,"y":69},{"k":"e","x":795.2,"y":75.7},{"k":"e","x":794.7,"y":87.3},{"k":"e","x":794.4,"y":92.3},{"k":"e","x":794.0,"y":82.3},{"k":"e","x":793.3,"y":66.7},{"k":"e","x":792.4,"y":57.3},{"k":"e","x":790.5,"y":52.3},{"k":"e","x":788.6,"y":52.3},{"k":"e","x":787.1,"y":55.7},{"k":"e","x":785.5,"y":57.3},{"k":"e","x":784.3,"y":59},{"k":"e","x":783.0,"y":65.7},{"k":"e","x":782.3,"y":75.7},{"k":"e","x":781.8,"y":77.3},{"k":"e","x":781.1,"y":104},{"k":"e","x":780.8,"y":127},{"k":"e","x":780.6,"y":137},{"k":"e","x":780.3,"y":127},{"k":"e","x":780.0,"y":90},{"k":"e","x":779.5,"y":52},{"k":"e","x":779.0,"y":40},{"k":"e","x":778.0,"y":30},{"k":"e","x":777.0,"y":23},{"k":"e","x":776.0,"y":20},{"k":"e","x":774.6,"y":17.5}],
"fT":[{"x":806.3,"y":83,"t":"satellites"},{"x":798.85,"y":80.7,"t":"Co-N"},{"x":789.07,"y":90,"t":"Co⁰"},{"x":788.3,"y":69.7,"t":"satellites"},{"x":777.7,"y":121.3,"t":"Co⁰"},{"x":777.34,"y":78,"t":"Co-N"}],
"fS":[{"x":794.0,"y":102.3,"s":"1/2"},{"x":780.7,"y":145.7,"s":"3/2"}],
"fR":[{"x":780.38,"y":104,"hx":779.13,"hy":119,"a":24},{"x":782.24,"y":58,"hx":778.7,"hy":74.7,"a":49},{"x":794.47,"y":79,"hx":791.36,"hy":89,"a":59},{"x":786.28,"y":54.7,"hx":787.5,"hy":64,"a":324},{"x":796.52,"y":57.3,"hx":797.75,"hy":74,"a":338},{"x":802.72,"y":62.3,"hx":804.58,"hy":74.7,"a":321}]
},
"concat":[
{"width":196,"height":161,"layer":[
 {"data":{"name":"xrd"},"transform":[{"fold":["g","b","r"],"as":["k","val"]}],"mark":{"type":"line","strokeWidth":1.2},
  "encoding":{"x":{"field":"t","type":"quantitative","scale":{"domain":[20,80],"nice":false,"zero":false},"axis":{"title":"2 Theta (degree)","values":[20,25,30,35,40,45,50,55,60,65,70,75,80],"labelExpr":"datum.value % 10 === 0 ? datum.label : ''"}},
   "y":{"field":"val","type":"quantitative","scale":{"domain":[0,161],"nice":false,"zero":false},"axis":{"title":"Intensity (a.u.)"}},
   "color":{"field":"k","type":"nominal","scale":{"domain":["g","b","r"],"range":["#22a323","#2b7dc4","#e8242a"]},"legend":null}}},
 {"data":{"name":"xbox"},"mark":{"type":"rect","fill":"white","fillOpacity":0,"stroke":"#9a9a9a","strokeWidth":0.8},"encoding":{"x":{"field":"x1","type":"quantitative"},"x2":{"field":"x2"},"y":{"field":"y1","type":"quantitative"},"y2":{"field":"y2"}}},
 {"data":{"name":"xlg"},"mark":{"type":"rule","strokeWidth":2.5},"encoding":{"x":{"field":"x1","type":"quantitative"},"x2":{"field":"x2"},"y":{"field":"y","type":"quantitative"},"color":{"field":"k","type":"nominal","legend":null}}},
 {"data":{"name":"xlg"},"mark":{"type":"text","align":"left","baseline":"middle","fontSize":8,"color":"black"},"encoding":{"x":{"field":"tx","type":"quantitative"},"y":{"field":"y","type":"quantitative"},"text":{"field":"t"}}},
 {"data":{"name":"stk"},"transform":[{"filter":"datum.m == 'd'"}],"mark":{"type":"rule","color":"#7e2fb5","strokeWidth":2},"encoding":{"x":{"field":"t","type":"quantitative"},"y":{"field":"z","type":"quantitative"},"y2":{"field":"h"}}},
 {"data":{"name":"stk"},"transform":[{"filter":"datum.m == 'u'"}],"mark":{"type":"rule","color":"black","strokeWidth":2},"encoding":{"x":{"field":"t","type":"quantitative"},"y":{"field":"z","type":"quantitative"},"y2":{"field":"h"}}},
 {"data":{"name":"xmk"},"transform":[{"filter":"datum.m == 'u'"}],"mark":{"type":"point","shape":"triangle-up","filled":true,"color":"black","size":16,"opacity":1},"encoding":{"x":{"field":"t","type":"quantitative"},"y":{"field":"v","type":"quantitative"}}},
 {"data":{"name":"xmk"},"transform":[{"filter":"datum.m == 'd'"}],"mark":{"type":"point","shape":"triangle-down","filled":true,"color":"#7e2fb5","size":20,"opacity":1},"encoding":{"x":{"field":"t","type":"quantitative"},"y":{"field":"v","type":"quantitative"}}},
 {"data":{"name":"xleg"},"transform":[{"filter":"datum.m == 'u'"}],"mark":{"type":"text","align":"left","baseline":"middle","fontSize":8,"color":"black","text":"CoFe"},"encoding":{"x":{"field":"x","type":"quantitative"},"y":{"field":"y","type":"quantitative"}}},
 {"data":{"name":"xleg"},"transform":[{"filter":"datum.m == 'd'"}],"mark":{"type":"text","align":"left","baseline":"middle","fontSize":8,"color":"#7e2fb5","text":"Co"},"encoding":{"x":{"field":"x","type":"quantitative"},"y":{"field":"y","type":"quantitative"}}},
 {"data":{"name":"xleg"},"transform":[{"filter":"datum.m == 'd'"}],"mark":{"type":"text","align":"left","baseline":"middle","fontSize":5.5,"dx":9.6,"dy":2.5,"color":"#7e2fb5","text":"5.47"},"encoding":{"x":{"field":"x","type":"quantitative"},"y":{"field":"y","type":"quantitative"}}},
 {"data":{"name":"xleg"},"transform":[{"filter":"datum.m == 'd'"}],"mark":{"type":"text","align":"left","baseline":"middle","fontSize":8,"dx":19.2,"color":"#7e2fb5","text":"N"},"encoding":{"x":{"field":"x","type":"quantitative"},"y":{"field":"y","type":"quantitative"}}},
 {"data":{"name":"lbl"},"transform":[{"filter":"datum.p == 'a'"}],"mark":{"type":"text","align":"center","baseline":"middle","fontSize":16,"color":"black"},"encoding":{"x":{"field":"x","type":"quantitative"},"y":{"field":"y","type":"quantitative"},"text":{"field":"t"}}}
]},
{"width":196,"height":161,"layer":[
 {"data":{"name":"ram"},"transform":[{"fold":["r","o","g"],"as":["k","val"]}],"mark":{"type":"line","strokeWidth":1.3,"interpolate":"monotone"},
  "encoding":{"x":{"field":"w","type":"quantitative","scale":{"domain":[500,2250],"nice":false,"zero":false},"axis":{"title":"Raman shift (cm⁻¹)","values":[500,1000,1500,2000],"format":"d"}},
   "y":{"field":"val","type":"quantitative","scale":{"domain":[0,161],"nice":false,"zero":false},"axis":{"title":"Intensity (a.u.)"}},
   "color":{"field":"k","type":"nominal","scale":{"domain":["r","o","g"],"range":["#e8242a","#2b7dc4","#22a323"]},"legend":null}}},
 {"data":{"name":"ramT"},"mark":{"type":"text","align":"left","baseline":"middle","fontSize":7.5},"encoding":{"x":{"field":"w","type":"quantitative"},"y":{"field":"v","type":"quantitative"},"text":{"field":"t"},"color":{"field":"s","type":"nominal","legend":null}}},
 {"data":{"name":"idig"},"mark":{"type":"text","align":"right","baseline":"middle","fontSize":9,"text":"I"},"encoding":{"x":{"field":"w","type":"quantitative"},"y":{"field":"v","type":"quantitative"},"color":{"field":"s","type":"nominal","legend":null}}},
 {"data":{"name":"idig"},"mark":{"type":"text","align":"left","baseline":"middle","fontSize":6.5,"dy":3,"dx":0.3,"text":"D"},"encoding":{"x":{"field":"w","type":"quantitative"},"y":{"field":"v","type":"quantitative"},"color":{"field":"s","type":"nominal","legend":null}}},
 {"data":{"name":"idig"},"mark":{"type":"text","align":"left","baseline":"middle","fontSize":9,"dx":5.2,"text":":I"},"encoding":{"x":{"field":"w","type":"quantitative"},"y":{"field":"v","type":"quantitative"},"color":{"field":"s","type":"nominal","legend":null}}},
 {"data":{"name":"idig"},"mark":{"type":"text","align":"left","baseline":"middle","fontSize":6.5,"dy":3,"dx":11.9,"text":"G"},"encoding":{"x":{"field":"w","type":"quantitative"},"y":{"field":"v","type":"quantitative"},"color":{"field":"s","type":"nominal","legend":null}}},
 {"data":{"name":"idig"},"mark":{"type":"text","align":"left","baseline":"middle","fontSize":9,"dx":17.2},"encoding":{"x":{"field":"w","type":"quantitative"},"y":{"field":"v","type":"quantitative"},"text":{"field":"val"},"color":{"field":"s","type":"nominal","legend":null}}},
 {"data":{"name":"lbl"},"transform":[{"filter":"datum.p == 'b'"}],"mark":{"type":"text","align":"center","baseline":"middle","fontSize":16,"color":"black"},"encoding":{"x":{"field":"x","type":"quantitative"},"y":{"field":"y","type":"quantitative"},"text":{"field":"t"}}}
]},
{"width":196,"height":161,"layer":[
 {"data":{"name":"cA"},"mark":{"type":"area","interpolate":"monotone","fillOpacity":0.6},
  "encoding":{"x":{"field":"x","type":"quantitative","scale":{"domain":[280,297.4],"reverse":true,"nice":false,"zero":false},"axis":{"title":"Binding energy (eV)","values":[295,290,285,280]}},
   "y":{"field":"y","type":"quantitative","scale":{"domain":[0,161],"nice":false,"zero":false},"axis":{"title":"Intensity (a.u.)"}},
   "y2":{"field":"b"},
   "color":{"field":"c","type":"nominal","scale":{"domain":["pp","co","cn","cc"],"range":["#6aa6d8","#74c474","#5cc59a","#d8b98a"]},"legend":null}}},
 {"data":{"name":"cL"},"transform":[{"filter":"datum.k == 'b'"}],"mark":{"type":"line","color":"#7fa3b5","strokeWidth":1},"encoding":{"x":{"field":"x","type":"quantitative"},"y":{"field":"y","type":"quantitative"}}},
 {"data":{"name":"cL"},"transform":[{"filter":"datum.k == 'r'"}],"mark":{"type":"line","color":"#8794a8","strokeWidth":1},"encoding":{"x":{"field":"x","type":"quantitative"},"y":{"field":"y","type":"quantitative"}}},
 {"data":{"name":"cL"},"transform":[{"filter":"datum.k == 'e'"}],"mark":{"type":"line","color":"#f39237","strokeWidth":2,"interpolate":"monotone"},"encoding":{"x":{"field":"x","type":"quantitative"},"y":{"field":"y","type":"quantitative"}}},
 {"data":{"name":"cR"},"mark":{"type":"rule","color":"black","strokeWidth":1.1},"encoding":{"x":{"field":"x","type":"quantitative"},"y":{"field":"y","type":"quantitative"},"x2":{"field":"hx"},"y2":{"field":"hy"}}},
 {"data":{"name":"cR"},"mark":{"type":"point","shape":"triangle","filled":true,"color":"black","size":16,"opacity":1},"encoding":{"x":{"field":"hx","type":"quantitative"},"y":{"field":"hy","type":"quantitative"},"angle":{"field":"a","type":"quantitative","scale":null}}},
 {"data":{"name":"cT"},"mark":{"type":"text","baseline":"middle","fontSize":11,"color":"black"},"encoding":{"x":{"field":"x","type":"quantitative"},"y":{"field":"y","type":"quantitative"},"text":{"field":"t"}}},
 {"data":{"name":"ins"},"transform":[{"filter":"datum.p == 'c'"}],"mark":{"type":"text","align":"left","baseline":"middle","fontSize":11.5,"color":"black"},"encoding":{"x":{"field":"x","type":"quantitative"},"y":{"field":"y","type":"quantitative"},"text":{"field":"t"}}},
 {"data":{"name":"lbl"},"transform":[{"filter":"datum.p == 'c'"}],"mark":{"type":"text","align":"center","baseline":"middle","fontSize":16,"color":"black"},"encoding":{"x":{"field":"x","type":"quantitative"},"y":{"field":"y","type":"quantitative"},"text":{"field":"t"}}}
]},
{"width":196,"height":157,"layer":[
 {"data":{"name":"dA"},"mark":{"type":"area","interpolate":"monotone","fillOpacity":0.6},
  "encoding":{"x":{"field":"x","type":"quantitative","scale":{"domain":[392,410.3],"reverse":true,"nice":false,"zero":false},"axis":{"title":"Binding energy (eV)","values":[408,404,400,396,392]}},
   "y":{"field":"y","type":"quantitative","scale":{"domain":[0,157],"nice":false,"zero":false},"axis":{"title":"Intensity (a.u.)"}},
   "y2":{"field":"b"},
   "color":{"field":"c","type":"nominal","scale":{"domain":["gr","py","cn","pd"],"range":["#8fd18f","#6fa8dc","#57bfae","#d2b27e"]},"legend":null}}},
 {"data":{"name":"dL"},"transform":[{"filter":"datum.k == 'b'"}],"mark":{"type":"line","color":"#5cb85c","strokeWidth":1},"encoding":{"x":{"field":"x","type":"quantitative"},"y":{"field":"y","type":"quantitative"}}},
 {"data":{"name":"dL"},"transform":[{"filter":"datum.k == 'r'"}],"mark":{"type":"line","color":"#7f7f7f","strokeWidth":0.8},"encoding":{"x":{"field":"x","type":"quantitative"},"y":{"field":"y","type":"quantitative"}}},
 {"data":{"name":"dL"},"transform":[{"filter":"datum.k == 'e'"}],"mark":{"type":"line","color":"#f39237","strokeWidth":2,"interpolate":"monotone"},"encoding":{"x":{"field":"x","type":"quantitative"},"y":{"field":"y","type":"quantitative"}}},
 {"data":{"name":"dR"},"mark":{"type":"rule","color":"black","strokeWidth":1.1},"encoding":{"x":{"field":"x","type":"quantitative"},"y":{"field":"y","type":"quantitative"},"x2":{"field":"hx"},"y2":{"field":"hy"}}},
 {"data":{"name":"dR"},"mark":{"type":"point","shape":"triangle","filled":true,"color":"black","size":16,"opacity":1},"encoding":{"x":{"field":"hx","type":"quantitative"},"y":{"field":"hy","type":"quantitative"},"angle":{"field":"a","type":"quantitative","scale":null}}},
 {"data":{"name":"dT"},"mark":{"type":"text","baseline":"middle","fontSize":10,"color":"black"},"encoding":{"x":{"field":"x","type":"quantitative"},"y":{"field":"y","type":"quantitative"},"text":{"field":"t"}}},
 {"data":{"name":"ins"},"transform":[{"filter":"datum.p == 'd'"}],"mark":{"type":"text","align":"left","baseline":"middle","fontSize":11.5,"color":"black"},"encoding":{"x":{"field":"x","type":"quantitative"},"y":{"field":"y","type":"quantitative"},"text":{"field":"t"}}},
 {"data":{"name":"lbl"},"transform":[{"filter":"datum.p == 'd'"}],"mark":{"type":"text","align":"center","baseline":"middle","fontSize":16,"color":"black"},"encoding":{"x":{"field":"x","type":"quantitative"},"y":{"field":"y","type":"quantitative"},"text":{"field":"t"}}}
]},
{"width":196,"height":157,"layer":[
 {"data":{"name":"eA"},"mark":{"type":"area","interpolate":"monotone","fillOpacity":0.6},
  "encoding":{"x":{"field":"x","type":"quantitative","scale":{"domain":[702.1,740.4],"reverse":true,"nice":false,"zero":false},"axis":{"title":"Binding energy (eV)","values":[736,728,720,712,704]}},
   "y":{"field":"y","type":"quantitative","scale":{"domain":[0,157],"nice":false,"zero":false},"axis":{"title":"Intensity (a.u.)"}},
   "y2":{"field":"b"},
   "color":{"field":"c","type":"nominal","scale":{"domain":["s1","f3a","f0a","s2","f3b","f0b"],"range":["#86cc74","#3fb0a6","#6aa3d8","#d4a878","#ec6a72","#a8d98a"]},"legend":null}}},
 {"data":{"name":"eL"},"transform":[{"filter":"datum.k == 'b'"}],"mark":{"type":"line","color":"#3d9970","strokeWidth":1.5},"encoding":{"x":{"field":"x","type":"quantitative"},"y":{"field":"y","type":"quantitative"}}},
 {"data":{"name":"eL"},"transform":[{"filter":"datum.k == 'r'"}],"mark":{"type":"line","color":"#7f7f7f","strokeWidth":0.8},"encoding":{"x":{"field":"x","type":"quantitative"},"y":{"field":"y","type":"quantitative"}}},
 {"data":{"name":"eL"},"transform":[{"filter":"datum.k == 'e'"}],"mark":{"type":"line","color":"#f39237","strokeWidth":2,"interpolate":"monotone"},"encoding":{"x":{"field":"x","type":"quantitative"},"y":{"field":"y","type":"quantitative"}}},
 {"data":{"name":"eR"},"mark":{"type":"rule","color":"black","strokeWidth":1.1},"encoding":{"x":{"field":"x","type":"quantitative"},"y":{"field":"y","type":"quantitative"},"x2":{"field":"hx"},"y2":{"field":"hy"}}},
 {"data":{"name":"eR"},"mark":{"type":"point","shape":"triangle","filled":true,"color":"black","size":16,"opacity":1},"encoding":{"x":{"field":"hx","type":"quantitative"},"y":{"field":"hy","type":"quantitative"},"angle":{"field":"a","type":"quantitative","scale":null}}},
 {"data":{"name":"eT"},"mark":{"type":"text","baseline":"middle","fontSize":10.5,"color":"black"},"encoding":{"x":{"field":"x","type":"quantitative"},"y":{"field":"y","type":"quantitative"},"text":{"field":"t"}}},
 {"data":{"name":"eS"},"mark":{"type":"text","align":"right","baseline":"middle","fontSize":10.5,"color":"black","text":"2p"},"encoding":{"x":{"field":"x","type":"quantitative"},"y":{"field":"y","type":"quantitative"}}},
 {"data":{"name":"eS"},"mark":{"type":"text","align":"left","baseline":"middle","fontSize":7.5,"dy":3.5,"color":"black"},"encoding":{"x":{"field":"x","type":"quantitative"},"y":{"field":"y","type":"quantitative"},"text":{"field":"s"}}},
 {"data":{"name":"ins"},"transform":[{"filter":"datum.p == 'e'"}],"mark":{"type":"text","align":"left","baseline":"middle","fontSize":11.5,"color":"black"},"encoding":{"x":{"field":"x","type":"quantitative"},"y":{"field":"y","type":"quantitative"},"text":{"field":"t"}}},
 {"data":{"name":"lbl"},"transform":[{"filter":"datum.p == 'e'"}],"mark":{"type":"text","align":"center","baseline":"middle","fontSize":16,"color":"black"},"encoding":{"x":{"field":"x","type":"quantitative"},"y":{"field":"y","type":"quantitative"},"text":{"field":"t"}}}
]},
{"width":196,"height":157,"layer":[
 {"data":{"name":"fA"},"mark":{"type":"area","interpolate":"monotone","fillOpacity":0.6},
  "encoding":{"x":{"field":"x","type":"quantitative","scale":{"domain":[774.6,811.1],"reverse":true,"nice":false,"zero":false},"axis":{"title":"Binding energy (eV)","values":[808,800,792,784,776]}},
   "y":{"field":"y","type":"quantitative","scale":{"domain":[0,157],"nice":false,"zero":false},"axis":{"title":"Intensity (a.u.)"}},
   "y2":{"field":"b"},
   "color":{"field":"c","type":"nominal","scale":{"domain":["s1","cnl","c0l","s2","cnr","c0r"],"range":["#6cc06a","#b59a52","#6aa8dc","#5cc99c","#62bcbc","#ee7a80"]},"legend":null}}},
 {"data":{"name":"fL"},"transform":[{"filter":"datum.k == 'b'"}],"mark":{"type":"line","color":"#7a9a50","strokeWidth":1.5},"encoding":{"x":{"field":"x","type":"quantitative"},"y":{"field":"y","type":"quantitative"}}},
 {"data":{"name":"fL"},"transform":[{"filter":"datum.k == 'r'"}],"mark":{"type":"line","color":"#7f7f7f","strokeWidth":0.8},"encoding":{"x":{"field":"x","type":"quantitative"},"y":{"field":"y","type":"quantitative"}}},
 {"data":{"name":"fL"},"transform":[{"filter":"datum.k == 'e'"}],"mark":{"type":"line","color":"#f39237","strokeWidth":2,"interpolate":"monotone"},"encoding":{"x":{"field":"x","type":"quantitative"},"y":{"field":"y","type":"quantitative"}}},
 {"data":{"name":"fR"},"mark":{"type":"rule","color":"black","strokeWidth":1.1},"encoding":{"x":{"field":"x","type":"quantitative"},"y":{"field":"y","type":"quantitative"},"x2":{"field":"hx"},"y2":{"field":"hy"}}},
 {"data":{"name":"fR"},"mark":{"type":"point","shape":"triangle","filled":true,"color":"black","size":16,"opacity":1},"encoding":{"x":{"field":"hx","type":"quantitative"},"y":{"field":"hy","type":"quantitative"},"angle":{"field":"a","type":"quantitative","scale":null}}},
 {"data":{"name":"fT"},"mark":{"type":"text","baseline":"middle","fontSize":10.5,"color":"black"},"encoding":{"x":{"field":"x","type":"quantitative"},"y":{"field":"y","type":"quantitative"},"text":{"field":"t"}}},
 {"data":{"name":"fS"},"mark":{"type":"text","align":"right","baseline":"middle","fontSize":10.5,"color":"black","text":"2p"},"encoding":{"x":{"field":"x","type":"quantitative"},"y":{"field":"y","type":"quantitative"}}},
 {"data":{"name":"fS"},"mark":{"type":"text","align":"left","baseline":"middle","fontSize":7.5,"dy":3.5,"color":"black"},"encoding":{"x":{"field":"x","type":"quantitative"},"y":{"field":"y","type":"quantitative"},"text":{"field":"s"}}},
 {"data":{"name":"ins"},"transform":[{"filter":"datum.p == 'f'"}],"mark":{"type":"text","align":"left","baseline":"middle","fontSize":11.5,"color":"black"},"encoding":{"x":{"field":"x","type":"quantitative"},"y":{"field":"y","type":"quantitative"},"text":{"field":"t"}}},
 {"data":{"name":"lbl"},"transform":[{"filter":"datum.p == 'f'"}],"mark":{"type":"text","align":"center","baseline":"middle","fontSize":16,"color":"black"},"encoding":{"x":{"field":"x","type":"quantitative"},"y":{"field":"y","type":"quantitative"},"text":{"field":"t"}}}
]}
]
}
